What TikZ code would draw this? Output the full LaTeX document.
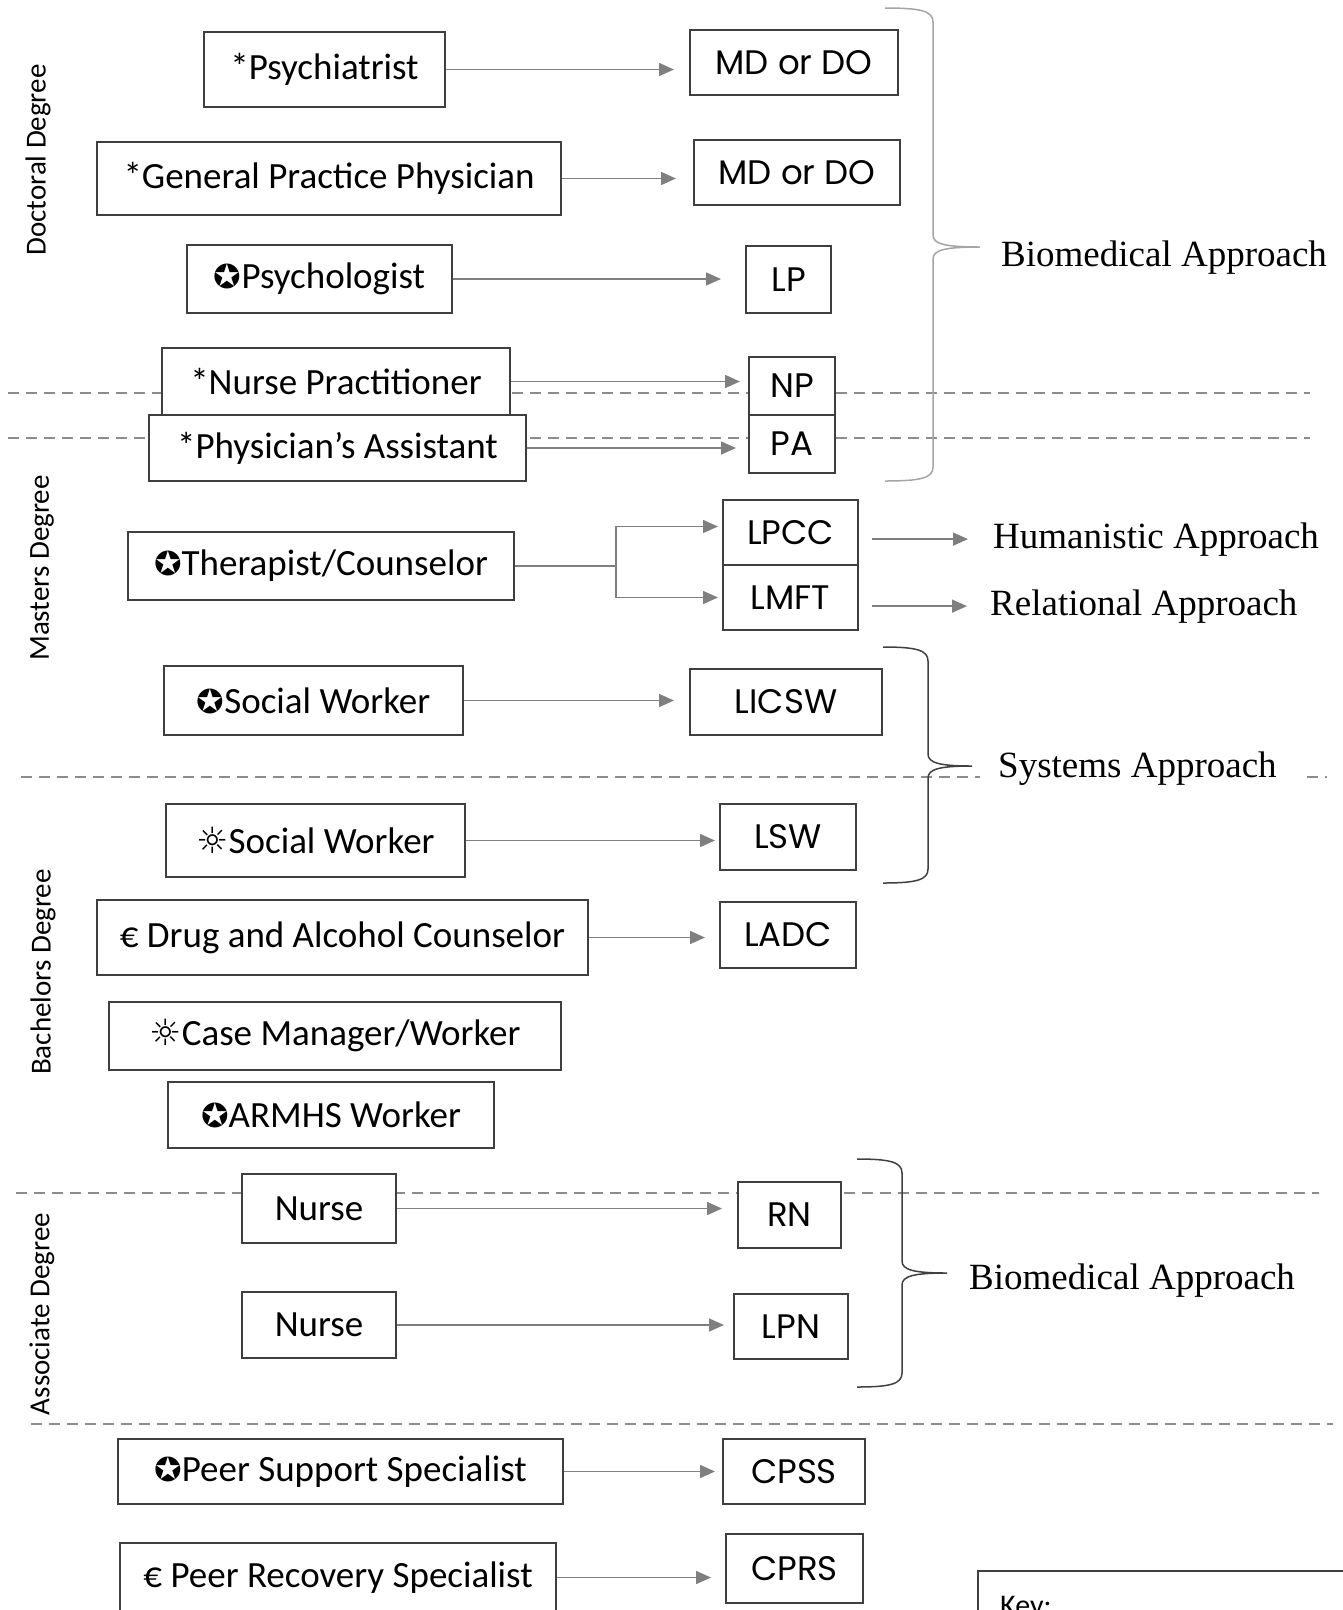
\documentclass[tikz,border=0pt]{standalone}
\usepackage{fontspec}
\setmainfont{Liberation Serif}
\newfontfamily\boxfont{Carlito}
\newfontfamily\licfont{Poppins}
\newfontfamily\symfont{DejaVu Sans}
\usetikzlibrary{arrows.meta}
\definecolor{boxgray}{HTML}{3F3F3F}
\definecolor{arrowgray}{HTML}{7F7F7F}
\definecolor{dashgray}{HTML}{8C8C8C}
\definecolor{bracelight}{HTML}{A5A5A5}
\definecolor{bracedark}{HTML}{404040}
%symbols of the key
\newcommand{\cstar}{{\symfont\fontsize{33}{33}\selectfont ✪}}
\newcommand{\wsun}{{\symfont\fontsize{36}{36}\selectfont ☼}}
%curly brace: colour, x end, x spine, x tip, y top, y tip, y bottom
\newcommand{\apbrace}[7]{%
	\draw[#1,line width=1.5pt] (#2,#5) .. controls (#3-12,#5) and (#3,#5+3) .. (#3,#5+14)
	-- (#3,#6-12) .. controls (#3,#6-3) and (#3+12,#6) .. (#4,#6)
	.. controls (#3+12,#6) and (#3,#6+3) .. (#3,#6+12)
	-- (#3,#7-14) .. controls (#3,#7-3) and (#3-12,#7) .. (#2,#7);}
\begin{document}
\begin{tikzpicture}[x=1pt,y=-1pt,
	jobbox/.style={draw=boxgray,fill=white,line width=2pt,inner sep=0pt,font=\boxfont\fontsize{37}{40}\selectfont},
	licbox/.style={draw=boxgray,fill=white,line width=2pt,inner sep=0pt,font=\licfont\fontsize{34}{38}\selectfont},
	link/.style={draw=arrowgray,line width=1.6pt,-{Triangle[length=15pt,width=13pt]}},
	levelline/.style={draw=dashgray,line width=1.6pt,dash pattern=on 11pt off 7pt},
	approach/.style={anchor=base west,inner sep=2pt,font=\fontsize{37}{40}\selectfont},
	degree/.style={rotate=90,inner sep=0pt,font=\boxfont\fontsize{29}{32}\selectfont}]
	\useasboundingbox (0,0) rectangle (1343,1610);

	%Degree levels
	\draw[levelline] (8,393) -- (1310,393);
	\draw[levelline] (8,438) -- (1310,438);
	\draw[levelline] (21,777) -- (980,777);
	\draw[levelline] (1307,777) -- (1327,777);
	\draw[levelline] (16,1193) -- (1319,1193);
	\draw[levelline] (31,1424) -- (1333,1424);

	\node[degree] (doctoral) at (38,160) {Doctoral Degree};
	\node[degree] (masters) at (42,568) {Masters Degree};
	\node[degree] (bachelors) at (43,972) {Bachelors Degree};
	\node[degree] (associate) at (42,1314) {Associate Degree};

	%Doctoral degree
	\draw node[jobbox,minimum width=241,minimum height=75] (psychiatrist) at (324.5,69.5) {*Psychiatrist};
	\draw node[licbox,minimum width=208,minimum height=65] (mdA) at (794,62.5) {MD or DO};
	\draw node[jobbox,minimum width=464,minimum height=73] (gp) at (329,178.5) {*General Practice Physician};
	\draw node[licbox,minimum width=206,minimum height=65] (mdB) at (797,172.5) {MD or DO};
	\draw node[jobbox,minimum width=265,minimum height=68] (psychologist) at (319.5,279) {\cstar Psychologist};
	\draw node[licbox,minimum width=85,minimum height=67] (lp) at (788.5,279.5) {LP};

	%Masters degree
	\draw node[licbox,minimum width=86,minimum height=58] (npLic) at (792,386) {NP};
	\draw node[licbox,minimum width=86,minimum height=58] (paLic) at (792,444) {PA};
	\draw node[jobbox,minimum width=348,minimum height=67] (nursePr) at (336,381.5) {*Nurse Practitioner};
	\draw node[jobbox,minimum width=377,minimum height=66] (physAsst) at (337.5,448) {*Physician’s Assistant};
	\draw node[jobbox,minimum width=386,minimum height=68] (therapist) at (321,566) {\cstar Therapist/Counselor};
	\draw node[licbox,minimum width=135,minimum height=65] (lpcc) at (790.5,532.5) {LPCC};
	\draw node[licbox,minimum width=135,minimum height=65] (lmft) at (790.5,597.5) {LMFT};
	\draw node[jobbox,minimum width=299,minimum height=69] (swMasters) at (313.5,700.5) {\cstar Social Worker};
	\draw node[licbox,minimum width=192,minimum height=66] (licsw) at (786,702) {LICSW};

	%Bachelors degree
	\draw node[jobbox,minimum width=299,minimum height=73] (swBachelors) at (315.5,840.5) {\wsun Social Worker};
	\draw node[licbox,minimum width=136,minimum height=66] (lsw) at (788,837) {LSW};
	\draw node[jobbox,minimum width=491,minimum height=75] (drugCouns) at (342.5,937.5) {€ Drug and Alcohol Counselor};
	\draw node[licbox,minimum width=136,minimum height=66] (ladc) at (788,935) {LADC};
	\draw node[jobbox,minimum width=452,minimum height=68] (caseMgr) at (335,1036) {\wsun Case Manager/Worker};
	\draw node[jobbox,minimum width=326,minimum height=66] (armhs) at (331,1115) {\cstar ARMHS Worker};

	%Associate degree
	\draw node[jobbox,minimum width=154,minimum height=69] (nurseRN) at (319,1208.5) {Nurse};
	\draw node[licbox,minimum width=103,minimum height=66] (rn) at (789.5,1215) {RN};
	\draw node[jobbox,minimum width=154,minimum height=66] (nurseLPN) at (319,1325) {Nurse};
	\draw node[licbox,minimum width=114,minimum height=65] (lpn) at (791,1326.5) {LPN};

	%No degree
	\draw node[jobbox,minimum width=445,minimum height=65] (peerSupport) at (340.5,1471.5) {\cstar Peer Support Specialist};
	\draw node[licbox,minimum width=142,minimum height=65] (cpss) at (794,1471.5) {CPSS};
	\draw node[jobbox,minimum width=436,minimum height=69] (peerRecovery) at (338,1577.5) {€ Peer Recovery Specialist};
	\draw node[licbox,minimum width=137,minimum height=69] (cprs) at (794.5,1568.5) {CPRS};

	%Job to licence
	\draw[link,shorten >=15pt] (psychiatrist.east) -- (psychiatrist.east -| mdA.west);
	\draw[link,shorten >=17pt] (gp.east) -- (gp.east -| mdB.west);
	\draw[link,shorten >=24pt] (psychologist.east) -- (psychologist.east -| lp.west);
	\draw[link,shorten >=8pt] (nursePr.east) -- (nursePr.east -| npLic.west);
	\draw[link,shorten >=12pt] (physAsst.east) -- (physAsst.east -| paLic.west);
	\coordinate (fork) at (616,566);
	\draw[draw=arrowgray,line width=1.6pt] (therapist.east) -- (fork);
	\draw[link,shorten >=4pt] (fork) |- ([yshift=6pt]lpcc.west);
	\draw[link,shorten >=4pt] (fork) |- (lmft.west);
	\draw[link,shorten >=15pt] (swMasters.east) -- (swMasters.east -| licsw.west);
	\draw[link,shorten >=4pt] (swBachelors.east) -- (swBachelors.east -| lsw.west);
	\draw[link,shorten >=14pt] (drugCouns.east) -- (drugCouns.east -| ladc.west);
	\draw[link,shorten >=15pt] (nurseRN.east) -- (nurseRN.east -| rn.west);
	\draw[link,shorten >=9pt] (nurseLPN.east) -- (nurseLPN.east -| lpn.west);
	\draw[link,shorten >=7pt] (peerSupport.east) -- (peerSupport.east -| cpss.west);
	\draw[link,shorten >=14pt] (peerRecovery.east) -- (peerRecovery.east -| cprs.west);

	%Approaches
	\node[approach] (bioTop) at (999,266) {Biomedical Approach};
	\node[approach] (humanistic) at (991,548) {Humanistic Approach};
	\node[approach] (relational) at (988,615) {Relational Approach};
	\node[approach] (systems) at (996,777) {Systems Approach};
	\node[approach] (bioBottom) at (967,1289) {Biomedical Approach};
	\draw[link,shorten <=13pt,shorten >=23pt] (lpcc.east |- humanistic.west) -- (humanistic.west);
	\draw[link,shorten <=13pt,shorten >=21pt] (lmft.east |- relational.west) -- (relational.west);

	%Braces
	\apbrace{bracelight}{885}{933}{980}{8}{247}{481}
	\apbrace{bracedark}{883}{928}{972}{647}{766}{883}
	\apbrace{bracedark}{857}{902}{947}{1159}{1273}{1387}

	%Key
	\draw[boxgray,line width=2pt] (1400,1571) -- (978,1571) -- (978,1700);
	\node[anchor=base west,inner sep=0pt,font=\boxfont\fontsize{30}{32}\selectfont] (key) at (1000,1615) {Key:};
\end{tikzpicture}
\end{document}
